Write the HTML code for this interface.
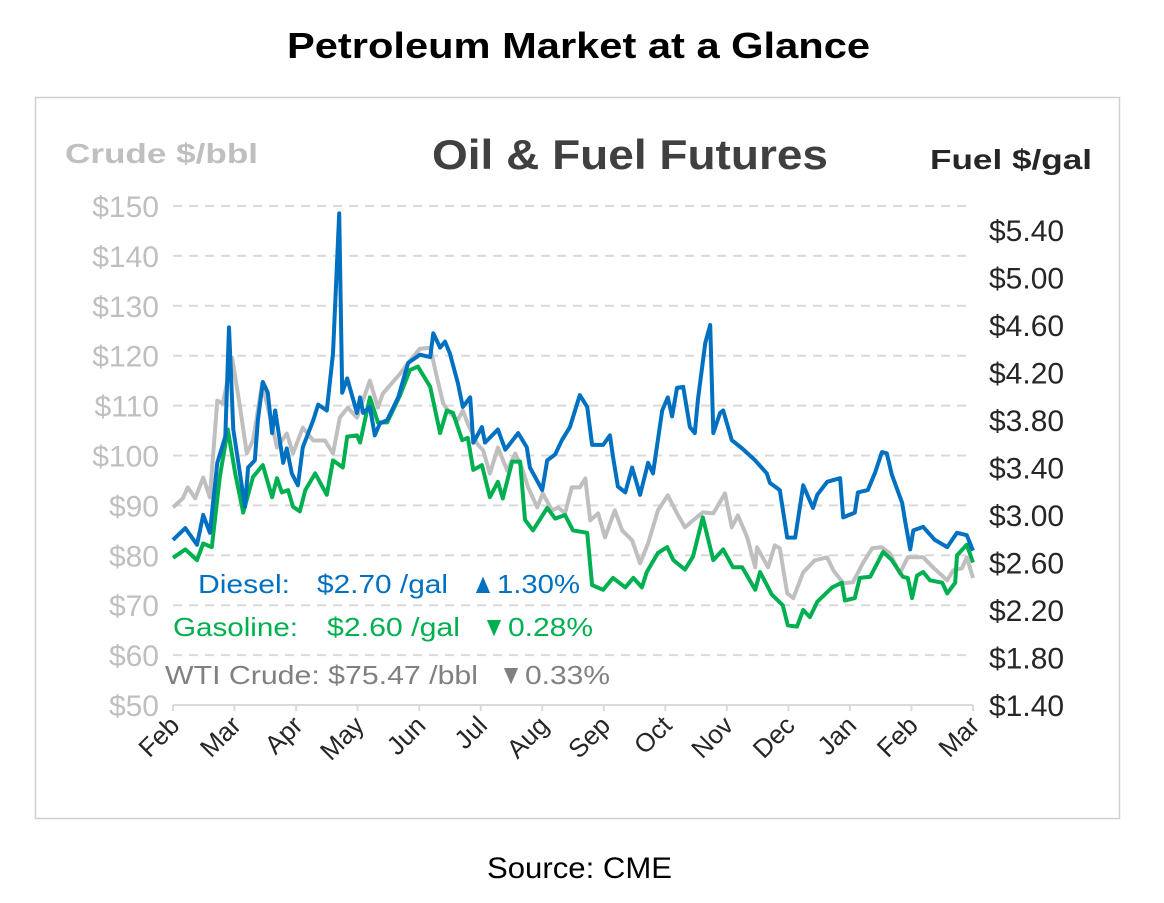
<!DOCTYPE html>
<html><head><meta charset="utf-8"><style>
html,body{margin:0;padding:0;background:#fff;width:1164px;height:903px;overflow:hidden}
svg text{font-family:"Liberation Sans",Arial,sans-serif;white-space:pre}
</style></head><body>
<svg id="chart" width="1164" height="903" viewBox="0 0 1164 903">
<text x="287" y="58" font-size="36" font-weight="bold" fill="#000" textLength="583" lengthAdjust="spacingAndGlyphs">Petroleum Market at a Glance</text>
<rect x="35.5" y="97.5" width="1084" height="721" fill="#fff" stroke="#d0d0d0" stroke-width="1.5"/>
<text x="65" y="163" font-size="28" font-weight="bold" fill="#bfbfbf" textLength="193" lengthAdjust="spacingAndGlyphs">Crude $/bbl</text>
<text x="432" y="169" font-size="42" font-weight="bold" fill="#404040" textLength="396" lengthAdjust="spacingAndGlyphs">Oil &amp; Fuel Futures</text>
<text x="930" y="169" font-size="28" font-weight="bold" fill="#262626" textLength="162" lengthAdjust="spacingAndGlyphs">Fuel $/gal</text>
<g id="grid"></g><g id="lticks"></g><g id="rticks"></g><g id="xticks"></g><g id="series"></g>
<g font-size="26" fill="#0070c0" lengthAdjust="spacingAndGlyphs">
<text x="198" y="593" textLength="92" lengthAdjust="spacingAndGlyphs">Diesel:</text><text x="317" y="593" textLength="131" lengthAdjust="spacingAndGlyphs">$2.70 /gal</text><text x="471" y="593" font-size="28" textLength="24" lengthAdjust="spacingAndGlyphs">▲</text><text x="497" y="593" textLength="83" lengthAdjust="spacingAndGlyphs">1.30%</text></g>
<g font-size="26" fill="#00b050">
<text x="173" y="636" textLength="125" lengthAdjust="spacingAndGlyphs">Gasoline:</text><text x="327" y="636" textLength="133" lengthAdjust="spacingAndGlyphs">$2.60 /gal</text><text x="482" y="636" font-size="28" textLength="24" lengthAdjust="spacingAndGlyphs">▼</text><text x="508" y="636" textLength="85" lengthAdjust="spacingAndGlyphs">0.28%</text></g>
<g font-size="26" fill="#808080">
<text x="165" y="684" textLength="313" lengthAdjust="spacingAndGlyphs">WTI Crude: $75.47 /bbl</text><text x="499" y="684" font-size="28" textLength="24" lengthAdjust="spacingAndGlyphs">▼</text><text x="525" y="684" textLength="85" lengthAdjust="spacingAndGlyphs">0.33%</text></g>
<text x="487" y="878" font-size="30" fill="#000" textLength="185" lengthAdjust="spacingAndGlyphs">Source: CME</text>
</svg>
<script>
const monthLabels=["Feb","Mar","Apr","May","Jun","Jul","Aug","Sep","Oct","Nov","Dec","Jan","Feb","Mar"];
const crudeTicks=[50,60,70,80,90,100,110,120,130,140,150];
const fuelTicks=[1.40,1.80,2.20,2.60,3.00,3.40,3.80,4.20,4.60,5.00,5.40];
const dieselT=[0,.20,.39,.49,.60,.72,.85,.91,.98,1.17,1.22,1.33,1.38,1.46,1.54,1.61,1.66,1.79,1.85,1.93,2.03,2.11,2.28,2.36,2.50,2.60,2.70,2.75,2.83,2.99,3.04,3.09,3.20,3.28,3.36,3.48,3.66,3.82,4.01,4.18,4.23,4.34,4.42,4.50,4.63,4.71,4.83,4.88,5.02,5.07,5.28,5.40,5.61,5.75,5.80,6.00,6.08,6.21,6.32,6.45,6.61,6.73,6.81,6.99,7.10,7.15,7.23,7.35,7.46,7.59,7.72,7.80,7.95,8.04,8.11,8.19,8.29,8.40,8.48,8.53,8.65,8.73,8.78,8.89,8.94,9.08,9.25,9.46,9.65,9.70,9.86,9.98,10.11,10.24,10.40,10.47,10.63,10.84,10.89,11.08,11.13,11.29,11.41,11.52,11.60,11.68,11.85,11.90,11.98,12.03,12.19,12.38,12.58,12.74,12.90,13.00];
const dieselV=[2.79,2.89,2.75,3.00,2.85,3.44,3.66,4.58,3.72,3.07,3.40,3.46,3.80,4.12,4.03,3.69,3.88,3.44,3.56,3.35,3.25,3.57,3.80,3.93,3.88,4.36,5.54,4.03,4.15,3.86,3.99,3.86,3.91,3.67,3.77,3.80,3.99,4.28,4.35,4.33,4.53,4.41,4.46,4.36,4.11,3.91,3.99,3.61,3.74,3.61,3.72,3.55,3.69,3.57,3.40,3.21,3.46,3.51,3.63,3.74,4.01,3.91,3.59,3.59,3.67,3.49,3.24,3.19,3.40,3.17,3.44,3.35,3.88,3.99,3.83,4.07,4.08,3.74,3.69,3.97,4.45,4.60,3.69,3.86,3.88,3.63,3.56,3.46,3.35,3.27,3.21,2.81,2.81,3.25,3.06,3.17,3.28,3.31,2.98,3.02,3.19,3.21,3.36,3.53,3.52,3.34,3.10,2.94,2.71,2.87,2.90,2.79,2.73,2.85,2.83,2.70];
const gasT=[0,.20,.39,.49,.63,.76,.89,1.01,1.14,1.30,1.46,1.61,1.69,1.77,1.87,1.95,2.06,2.15,2.31,2.50,2.60,2.76,2.83,2.99,3.04,3.20,3.33,3.48,3.69,3.85,3.98,4.18,4.34,4.45,4.55,4.70,4.79,4.88,5.02,5.15,5.28,5.36,5.51,5.64,5.72,5.85,6.08,6.21,6.37,6.50,6.73,6.81,6.99,7.15,7.35,7.48,7.62,7.70,7.88,8.03,8.13,8.32,8.45,8.61,8.78,8.94,9.10,9.25,9.46,9.54,9.67,9.73,9.91,9.99,10.14,10.24,10.35,10.47,10.71,10.87,10.92,11.08,11.16,11.33,11.54,11.68,11.86,11.94,12.01,12.09,12.19,12.30,12.50,12.58,12.71,12.74,12.90,13.00];
const gasV=[2.64,2.71,2.62,2.76,2.73,3.32,3.72,3.35,3.02,3.32,3.42,3.15,3.31,3.19,3.21,3.07,3.03,3.21,3.35,3.17,3.46,3.40,3.66,3.67,3.61,3.99,3.78,3.78,4.01,4.22,4.25,4.08,3.69,3.88,3.86,3.63,3.65,3.38,3.42,3.15,3.28,3.14,3.45,3.45,2.96,2.87,3.06,2.97,3.00,2.87,2.85,2.41,2.37,2.47,2.39,2.47,2.39,2.52,2.68,2.73,2.62,2.54,2.65,2.98,2.62,2.71,2.56,2.56,2.37,2.52,2.39,2.33,2.24,2.07,2.06,2.20,2.14,2.27,2.39,2.43,2.28,2.30,2.47,2.48,2.69,2.62,2.48,2.47,2.30,2.49,2.52,2.45,2.43,2.34,2.43,2.66,2.75,2.60];
const crudeT=[0,.16,.24,.36,.49,.60,.72,.81,.96,1.09,1.20,1.30,1.45,1.58,1.69,1.85,1.95,2.11,2.28,2.47,2.60,2.71,2.84,2.99,3.20,3.33,3.41,3.69,3.85,4.01,4.18,4.29,4.39,4.47,4.62,4.71,4.79,4.94,5.04,5.15,5.28,5.43,5.56,5.67,5.77,5.92,6.01,6.16,6.26,6.37,6.48,6.61,6.70,6.78,6.91,7.02,7.18,7.30,7.46,7.59,7.72,7.88,8.04,8.19,8.32,8.45,8.61,8.78,8.97,9.08,9.18,9.33,9.46,9.49,9.67,9.78,9.86,9.98,10.08,10.24,10.43,10.63,10.73,10.89,11.05,11.21,11.36,11.52,11.65,11.81,11.94,12.19,12.35,12.58,12.68,12.82,12.90,13.00];
const crudeV=[89.6,91.4,93.6,91.4,95.6,91.6,111,110.4,119.6,109.6,100.4,103,114.4,107.6,101.6,104.4,100.4,105.6,103,103,100.4,107.6,109.6,107.6,115,109.6,112.4,116.4,119,121.4,121.6,115.6,110.4,109,107,109,106.4,102.4,101,96.4,101.6,97,100.4,97.6,93.6,89.6,92.4,89,89.6,88.4,93.6,93.6,95.4,87,88.4,83.6,89,85,83,78.4,82.4,89,92,88.4,85.6,87,88.6,88.4,92.4,85.6,88,83.6,77.6,81.6,77.6,82,81.4,72.4,71.4,76.6,79,79.6,77,74.4,74.6,78.4,81.4,81.6,80.4,76.4,79.6,79.6,77.6,75,77,77.4,79.6,75.47];

const NS="http://www.w3.org/2000/svg";
const X0=173,X1=973,YT=206,YB=705;
const xs=m=>X0+(X1-X0)*m/13;
const yCrude=v=>YB-(v-50)/100*(YB-YT);
const yFuel=v=>YB-(v-1.4)/4.0*(YB-230);
function mk(tag,attrs,parent){const e=document.createElementNS(NS,tag);for(const k in attrs)e.setAttribute(k,attrs[k]);parent.appendChild(e);return e;}
const grid=document.getElementById('grid'),lt=document.getElementById('lticks'),rt=document.getElementById('rticks'),xt=document.getElementById('xticks'),sg=document.getElementById('series');
crudeTicks.forEach(v=>{
  const y=yCrude(v);
  if(v>50){const l=mk('line',{x1:X0,x2:X1,y1:y,y2:y,stroke:'#d9d9d9','stroke-width':2,'stroke-dasharray':'9 7'},grid);
  
  }
  const t=mk('text',{x:159,y:y+11,'text-anchor':'end','font-size':30,fill:'#bfbfbf'},lt);t.textContent='$'+v;
  
  
});
fuelTicks.forEach(v=>{
  const t=mk('text',{x:989,y:yFuel(v)+11,'font-size':30,fill:'#262626'},rt);t.textContent='$'+v.toFixed(2);
  
  
});
const ax=mk('line',{x1:X0,x2:X1,y1:YB,y2:YB,stroke:'#d9d9d9','stroke-width':2},grid);


monthLabels.forEach((m,i)=>{
  const x=xs(i);
  const tk=mk('line',{x1:x,x2:x,y1:YB,y2:YB+6,stroke:'#d9d9d9','stroke-width':2},xt);
  
  
  const t=mk('text',{x:x+8,y:YB+22,'text-anchor':'end','font-size':26,fill:'#262626',transform:`rotate(-45 ${x+8} ${YB+22})`},xt);t.textContent=m;
  
  
});
function line(T,V,yf,color,name){
  const d=T.map((t,i)=>(i?'L':'M')+xs(t).toFixed(1)+','+yf(V[i]).toFixed(1)).join('');
  const p=mk('path',{d:d,fill:'none',stroke:color,'stroke-width':4,'stroke-linejoin':'round'},sg);
  
  
}
line(crudeT,crudeV,yCrude,'#bfbfbf','wti-crude-line');
line(gasT,gasV,yFuel,'#00b050','gasoline-line');
line(dieselT,dieselV,yFuel,'#0070c0','diesel-line');
</script>
</body></html>
